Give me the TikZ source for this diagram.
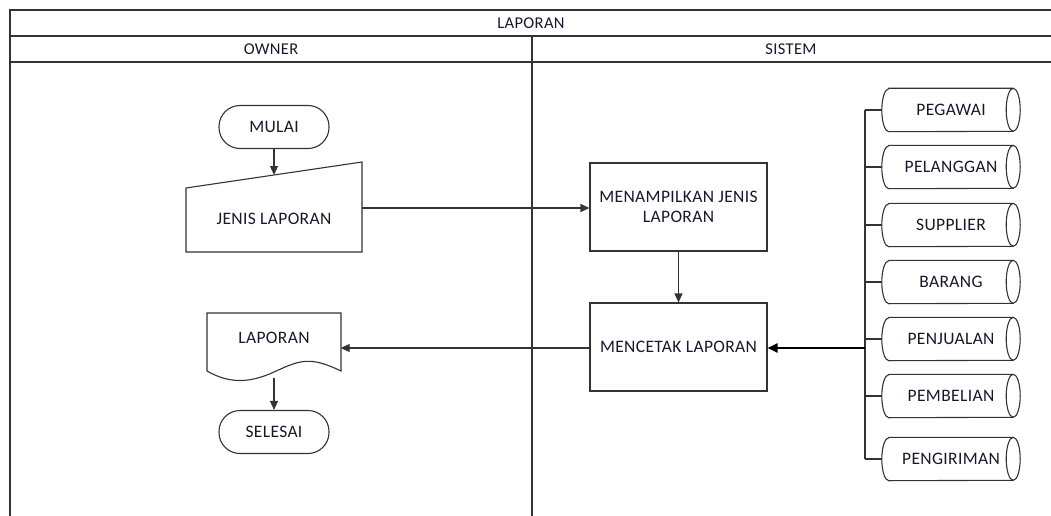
\documentclass[tikz,border=0pt]{standalone}
\usepackage{fontspec}
\setmainfont{Carlito}[LetterSpace=2]
\usetikzlibrary{arrows.meta}
\definecolor{ln}{HTML}{333333}
\definecolor{txt}{HTML}{15192A}
\begin{document}
\begin{tikzpicture}[x=1pt,y=1pt,
  font=\fontsize{17.5}{20}\selectfont,
  every node/.style={text=txt},
  frame/.style={draw=ln,line width=1.5pt},
  box/.style={draw=ln,line width=1.1pt,minimum width=177pt,minimum height=88pt,align=center,inner sep=2pt},
  term/.style={draw=ln,line width=1.1pt,rounded corners=21pt,minimum width=110pt,minimum height=43pt},
  dbnode/.style={minimum width=138pt,minimum height=43pt},
  conn/.style={draw=ln,line width=1.1pt,-{Triangle[length=9pt,width=8pt]}},
  bus/.style={draw=ln,line width=1.4pt}]
\useasboundingbox (0,0) rectangle (1051,-516);
% swimlane frame
\draw[frame] (1051,-10) -- (10,-10) -- (10,-516);
\draw[frame] (10,-36) -- (1051,-36);
\draw[frame] (10,-62) -- (1051,-62);
\draw[frame] (532,-36) -- (532,-516);
\node (title) at (531,-23) {\fontsize{16.5}{18}\selectfont LAPORAN};
\node (owner) at (271,-49) {\fontsize{16.5}{18}\selectfont OWNER};
\node (sistem) at (791,-49) {\fontsize{16.5}{18}\selectfont SISTEM};
% owner lane
\node[term] (mulai) at (274,-127) {MULAI};
\node[minimum width=176pt,minimum height=90pt] (input) at (274,-207) {};
\draw[draw=ln,line width=1.1pt] (186,-188) -- (362,-162) -- (362,-252) -- (186,-252) -- cycle;
\node (inputtxt) at (274,-219) {JENIS LAPORAN};
\node[minimum width=133pt,minimum height=70pt] (doc) at (274,-348) {};
\draw[draw=ln,line width=1.1pt] (207,-313) -- (341,-313) -- (341,-371)
  .. controls (310,-356) and (300,-360) .. (274,-372)
  .. controls (248,-384) and (228,-383) .. (207,-371) -- cycle;
\node (doctxt) at (274,-338) {LAPORAN};
\node[term] (selesai) at (274,-432) {SELESAI};
% system lane
\node[box] (tampil) at (678.5,-207) {MENAMPILKAN JENIS\\LAPORAN};
\node[box] (cetak) at (678.5,-347) {MENCETAK LAPORAN};
% databases
\foreach \n/\t/\y in {pegawai/PEGAWAI/110,pelanggan/PELANGGAN/167,supplier/SUPPLIER/225,barang/BARANG/282,penjualan/PENJUALAN/339,pembelian/PEMBELIAN/396,pengiriman/PENGIRIMAN/459}{
  \node[dbnode] (\n) at (951,-\y) {\t};
  \draw[draw=ln,line width=1.1pt] ([xshift=7pt]\n.north west) -- ([xshift=-7pt]\n.north east)
    arc[start angle=90,end angle=-90,x radius=7,y radius=21.5]
    -- ([xshift=7pt]\n.south west)
    arc[start angle=270,end angle=90,x radius=7,y radius=21.5] -- cycle;
  \draw[draw=ln,line width=1.1pt] ([xshift=-7pt]\n.north east)
    arc[start angle=90,end angle=270,x radius=7,y radius=21.5];
}
\coordinate (bustop) at (865,-110);
\coordinate (busbot) at (865,-459);
\coordinate (busmid) at (865,-348);
\draw[bus] (bustop) -- (busbot);
\foreach \n in {pegawai,pelanggan,supplier,barang,penjualan,pembelian,pengiriman}{
  \draw[draw=ln,line width=1.1pt] (\n.west -| bustop) -- (\n.west);
}
% connectors
\draw[conn] (mulai.south) -- (274,-175);
\draw[conn] (input.east |- 0,-208) -- (tampil.west |- 0,-208);
\draw[conn] (tampil.south) -- (cetak.north);
\draw[conn] (cetak.west |- 0,-348) -- (doc.east |- 0,-348);
\draw[conn] (274,-378) -- (selesai.north);
\draw[draw=black,line width=2pt,-{Triangle[length=10pt,width=9pt]}] (busmid) -- (cetak.east |- busmid);
\end{tikzpicture}
\end{document}
